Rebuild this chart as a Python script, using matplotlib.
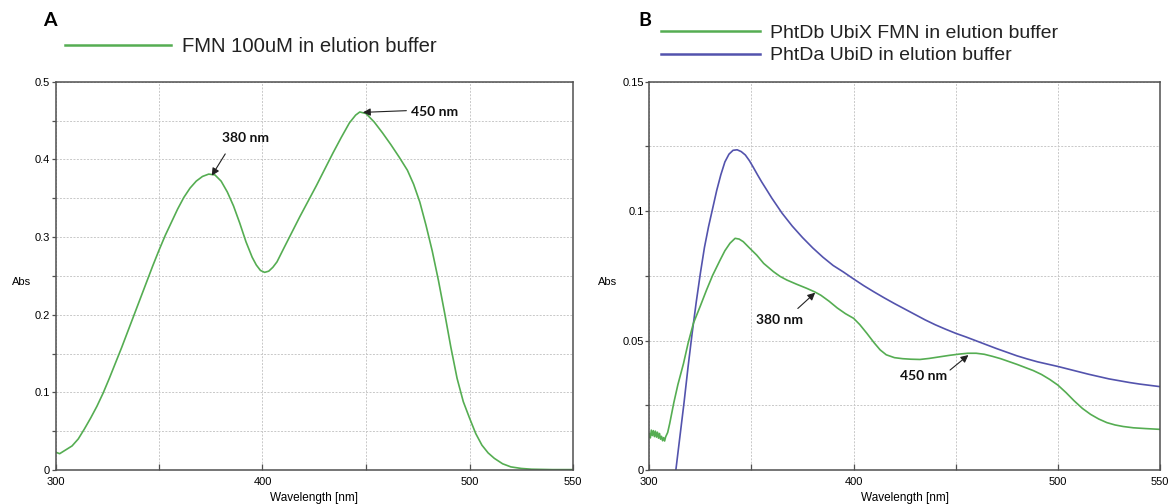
import matplotlib
matplotlib.use("Agg")
import matplotlib.pyplot as plt
from matplotlib.lines import Line2D
from matplotlib.ticker import MultipleLocator, FixedLocator

# ---------------- data ----------------
# Panel A : FMN 100uM in elution buffer
wl_a = [300, 302, 305, 308, 311, 314, 317, 320, 323, 326, 329, 332, 335, 338, 341, 344,
        347, 350, 353, 356, 359, 362, 365, 368, 371, 374, 377, 380, 383, 386, 389, 392,
        395, 397, 399, 401, 403, 405, 407, 410, 414, 418, 422, 426, 430, 434, 438, 442,
        445, 447, 450, 454, 458, 462, 466, 470, 473, 476, 479, 482, 485, 488, 491, 494,
        497, 500, 503, 506, 509, 512, 516, 520, 525, 530, 540, 550]
abs_a = [0.023, 0.021, 0.026, 0.031, 0.040, 0.053, 0.067, 0.082, 0.099, 0.118, 0.138,
         0.158, 0.179, 0.200, 0.221, 0.242, 0.263, 0.283, 0.302, 0.319, 0.336, 0.351,
         0.363, 0.372, 0.378, 0.381, 0.380, 0.372, 0.358, 0.340, 0.318, 0.294, 0.274,
         0.264, 0.257, 0.2545, 0.256, 0.261, 0.268, 0.284, 0.305, 0.326, 0.346, 0.366,
         0.387, 0.408, 0.428, 0.447, 0.457, 0.461, 0.459, 0.448, 0.434, 0.419, 0.403,
         0.386, 0.368, 0.345, 0.315, 0.282, 0.244, 0.202, 0.158, 0.118, 0.088, 0.067,
         0.047, 0.032, 0.022, 0.015, 0.008, 0.004, 0.002, 0.001, 0.0005, 0.0005]

# Panel B : PhtDb UbiX FMN (green) and PhtDa UbiD (blue)
wl_ubix = [300, 300.5, 301, 301.5, 302, 302.5, 303, 303.5, 304, 304.5, 305, 305.5, 306,
           306.5, 307, 307.5, 308, 309, 310, 311, 312, 314, 316.7, 319, 321.6, 325, 328,
           331, 334.6, 337, 339.5, 342, 344, 346, 349, 352.6, 356, 360.8, 364, 367.3,
           372, 377, 381, 384, 388, 392, 396, 400, 403, 406.5, 410, 413, 416, 420, 424,
           428, 432.5, 437, 442, 447, 452, 456, 460, 464, 468, 472, 476, 480, 484, 488,
           492, 496, 500, 504, 508, 512, 516, 520, 524, 528, 532, 537, 543, 550]
abs_ubix = [0.0140, 0.0124, 0.0154, 0.0133, 0.0152, 0.0129, 0.0150, 0.0127, 0.0146,
            0.0123, 0.0141, 0.0119, 0.0130, 0.0113, 0.0125, 0.0112, 0.0128, 0.0145,
            0.0180, 0.0220, 0.0260, 0.0330, 0.0410, 0.0490, 0.0567, 0.0634, 0.0695,
            0.0752, 0.0810, 0.0847, 0.0876, 0.0895, 0.0892, 0.0882, 0.0858, 0.0830,
            0.0798, 0.0766, 0.0748, 0.0734, 0.0718, 0.0702, 0.0688, 0.0675, 0.0652,
            0.0626, 0.0604, 0.0586, 0.0562, 0.0528, 0.0492, 0.0464, 0.0445, 0.0434,
            0.0430, 0.0428, 0.0427, 0.0431, 0.0437, 0.0443, 0.0448, 0.0451, 0.0451,
            0.0447, 0.0439, 0.0430, 0.0419, 0.0408, 0.0396, 0.0384, 0.0369, 0.0350,
            0.0328, 0.0299, 0.0267, 0.0238, 0.0215, 0.0197, 0.0183, 0.0174, 0.0168,
            0.0163, 0.0160, 0.0157]
wl_ubid = [312, 313, 315, 317, 319, 321, 323, 325, 327, 329, 331, 333, 335, 337, 339,
           341, 343, 345, 347, 349, 351, 353, 355, 357, 360, 365, 370, 375, 380, 385,
           390, 395, 400, 405, 410, 415, 420, 425, 430, 435, 440, 445, 450, 455, 460,
           465, 470, 475, 480, 485, 490, 495, 500, 505, 510, 515, 520, 525, 530, 535,
           540, 545, 550]
abs_ubid = [-0.006, 0.000, 0.013, 0.026, 0.040, 0.053, 0.065, 0.076, 0.086, 0.094,
            0.101, 0.108, 0.114, 0.119, 0.122, 0.1235, 0.1237, 0.1230, 0.1217, 0.1195,
            0.1168, 0.1140, 0.1113, 0.1088, 0.1050, 0.0992, 0.0942, 0.0898, 0.0858,
            0.0822, 0.0790, 0.0765, 0.0738, 0.0712, 0.0688, 0.0665, 0.0643, 0.0622,
            0.0601, 0.0580, 0.0561, 0.0544, 0.0528, 0.0514, 0.0499, 0.0484, 0.0469,
            0.0455, 0.0441, 0.0429, 0.0418, 0.0409, 0.0400, 0.0390, 0.0380, 0.0370,
            0.0361, 0.0352, 0.0345, 0.0338, 0.0332, 0.0327, 0.0322]

legend_a = ["FMN 100uM in elution buffer"]
legend_b = ["PhtDb UbiX FMN in elution buffer", "PhtDa UbiD in elution buffer"]
peak_labels = ["380 nm", "450 nm"]

GREEN = "#55ad52"
BLUE = "#5353ad"
W, H = 1173, 504

fig = plt.figure(figsize=(W / 100, H / 100), dpi=100)
fig.patch.set_facecolor("white")


def fx(px):
    return px / W


def fy(py):
    return 1 - py / H


def style_axes(ax, ymax, ymajor, yminor):
    ax.set_xlim(300, 550)
    ax.set_ylim(0, ymax)
    ax.xaxis.set_major_locator(FixedLocator([300, 400, 500, 550]))
    ax.xaxis.set_minor_locator(FixedLocator([350, 450]))
    ax.yaxis.set_major_locator(MultipleLocator(ymajor))
    ax.yaxis.set_minor_locator(MultipleLocator(yminor))
    ax.grid(True, which="both", color="#c8c8c8", linestyle=(0, (2, 1.5)), linewidth=0.7)
    ax.set_axisbelow(True)
    for s in ax.spines.values():
        s.set_color("#505050")
        s.set_linewidth(1.1)
    ax.tick_params(axis="x", which="both", direction="in", length=4, width=0.9,
                   color="#505050", labelsize=8, pad=5)
    ax.tick_params(axis="y", which="both", direction="out", length=3, width=0.9,
                   color="#505050", labelsize=8, pad=1)
    for lab in ax.get_xticklabels() + ax.get_yticklabels():
        lab.set_family("Liberation Sans")
    ax.set_xlabel("Wavelength [nm]", fontsize=8.5, family="Liberation Sans", va="center")
    ax.xaxis.set_label_coords(0.5, -0.072)


def fmt_tick(v, ndig):
    if abs(v) < 1e-12:
        return "0"
    return f"{v:.{ndig}f}".rstrip("0").rstrip(".")


# ---------------- Panel A ----------------
axA = fig.add_axes([fx(55.5), fy(470), fx(573) - fx(55.5), fy(81.7) - fy(470)])
axA.plot(wl_a, abs_a, color=GREEN, lw=1.2)
style_axes(axA, 0.5, 0.1, 0.05)
axA.set_yticks(axA.get_yticks())
axA.set_yticklabels([fmt_tick(v, 1) for v in axA.get_yticks()], family="Liberation Sans")
axA.set_ylim(0, 0.5)
axA.text(-0.065, 0.484, "Abs", transform=axA.transAxes, fontsize=8,
         family="Liberation Sans", ha="center", va="center")

ann_kw = dict(fontsize=10, family="Lato", fontweight="bold", color="#111111")
arrow_kw = dict(arrowstyle="-|>", color="#222222", lw=0.8, mutation_scale=11,
                shrinkA=0, shrinkB=0)
axA.text(392, 0.427, peak_labels[0], ha="center", va="center", **ann_kw)
axA.annotate("", xy=(375.5, 0.379), xytext=(382, 0.407), arrowprops=arrow_kw)
axA.text(471.5, 0.461, peak_labels[1], ha="left", va="center", **ann_kw)
axA.annotate("", xy=(448.5, 0.4605), xytext=(469.5, 0.4627), arrowprops=arrow_kw)

# ---------------- Panel B ----------------
axB = fig.add_axes([fx(649.3), fy(470), fx(1160) - fx(649.3), fy(81.7) - fy(470)])
axB.plot(wl_ubid, abs_ubid, color=BLUE, lw=1.2)
axB.plot(wl_ubix, abs_ubix, color=GREEN, lw=1.2)
style_axes(axB, 0.15, 0.05, 0.025)
axB.set_yticks([0, 0.05, 0.1, 0.15])
axB.set_yticklabels(["0", "0.05", "0.1", "0.15"], family="Liberation Sans")
axB.set_ylim(0, 0.15)
axB.text(-0.081, 0.484, "Abs", transform=axB.transAxes, fontsize=8,
         family="Liberation Sans", ha="center", va="center")

axB.text(363.7, 0.0579, peak_labels[0], ha="center", va="center", **ann_kw)
axB.annotate("", xy=(381.2, 0.0685), xytext=(372.7, 0.0624), arrowprops=arrow_kw)
axB.text(434.2, 0.0362, peak_labels[1], ha="center", va="center", **ann_kw)
axB.annotate("", xy=(456.2, 0.0444), xytext=(447.2, 0.0386), arrowprops=arrow_kw)

# ---------------- legends / panel letters ----------------
fig.text(fx(50), fy(21), "A", fontsize=14, family="Lato", fontweight="bold",
         ha="center", va="center")
fig.text(fx(645), fy(21), "B", fontsize=14, family="Lato", fontweight="bold",
         ha="center", va="center")

for i, (lab, col) in enumerate(zip(legend_a, [GREEN])):
    y = fy(45 + 22 * i)
    fig.add_artist(Line2D([fx(65), fx(171)], [y, y], color=col, lw=1.8,
                          transform=fig.transFigure))
    fig.text(fx(182), y, lab, fontsize=14.6, family="Liberation Sans",
             ha="left", va="center_baseline", color="#222222")

for i, (lab, col) in enumerate(zip(legend_b, [GREEN, BLUE])):
    y = fy(31 + 23 * i)
    fig.add_artist(Line2D([fx(661), fx(760)], [y, y], color=col, lw=1.8,
                          transform=fig.transFigure))
    fig.text(fx(770), y, lab, fontsize=14.0, family="Liberation Sans",
             ha="left", va="center_baseline", color="#222222")

fig.savefig("out.png", dpi=100)
